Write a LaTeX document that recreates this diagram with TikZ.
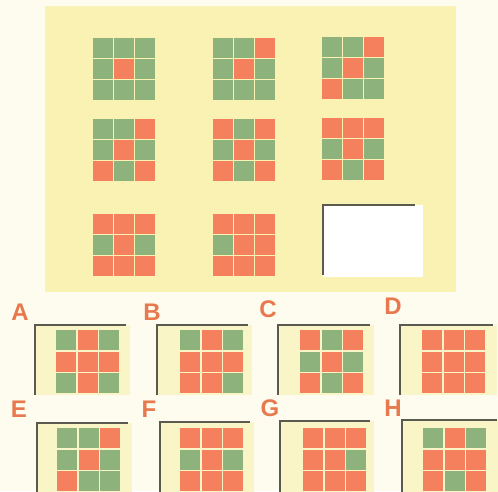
\documentclass[tikz,border=0pt]{standalone}
\usepackage{fontspec}
\setmainfont{Liberation Sans}
\definecolor{gc}{HTML}{8DB27C}
\definecolor{rc}{HTML}{F4805E}
\definecolor{panel}{HTML}{F9F2B2}
\definecolor{boxin}{HTML}{FAF5C6}
\definecolor{lab}{HTML}{E8784E}
\definecolor{bg}{HTML}{FDFCEE}
\definecolor{lc}{HTML}{5A5A50}
\newcommand{\mgrid}[3]{%
  \foreach \c [count=\i from 0] in {#3} {%
    \pgfmathtruncatemacro\rr{int(\i/3)}%
    \pgfmathtruncatemacro\kk{mod(\i,3)}%
    \fill[\c] ({#1+\kk*21},{#2+\rr*21}) rectangle ++(19.5,19.5);
  }}
\newcommand{\agrid}[3]{%
  \foreach \c [count=\i from 0] in {#3} {%
    \pgfmathtruncatemacro\rr{int(\i/3)}%
    \pgfmathtruncatemacro\kk{mod(\i,3)}%
    \fill[\c] ({#1+\kk*21.5},{#2+\rr*21.5}) rectangle ++(20,20);
  }}
\tikzset{
  optlabel/.style={text=lab,font=\fontsize{24}{24}\selectfont\bfseries,inner sep=0pt},
  boxline/.style={draw=lc,line width=1.4pt}
}
\begin{document}
\begin{tikzpicture}[x=1pt,y=-1pt]
\useasboundingbox (0,0) rectangle (498,491);
\clip (0,0) rectangle (498,491);
\fill[bg] (0,0) rectangle (498,491);
% panel
\fill[panel] (45,6) rectangle (456,292);
% matrix grids
\mgrid{93}{38}{gc,gc,gc,gc,rc,gc,gc,gc,gc}
\mgrid{213}{38}{gc,gc,rc,gc,rc,gc,gc,gc,gc}
\mgrid{322}{37}{gc,gc,rc,gc,rc,gc,rc,gc,gc}
\mgrid{93}{119}{gc,gc,rc,gc,rc,gc,rc,gc,rc}
\mgrid{213}{119}{rc,gc,rc,gc,rc,gc,rc,gc,rc}
\mgrid{322}{118}{rc,rc,rc,gc,rc,gc,rc,gc,rc}
\mgrid{93}{214}{rc,rc,rc,gc,rc,gc,rc,rc,rc}
\mgrid{213}{214}{rc,rc,rc,gc,rc,rc,rc,rc,rc}
% empty slot
\fill[white] (323,205) rectangle (423,277);
\draw[boxline] (323,275) -- (323,205) -- (415,205);
% answer boxes
\foreach \lx/\rx/\ty in {35/126/325,157/248/325,278/370/325,400/493/325}{
  \fill[boxin] (\lx,\ty) rectangle (\rx+4,\ty+70);
  \draw[boxline] (\lx,\ty+70) -- (\lx,\ty) -- (\rx,\ty);
}
\foreach \lx/\rx/\ty in {37/128/423,160/250/422,280/370/421,402/497/420}{
  \fill[boxin] (\lx,\ty) rectangle (\rx+4,495);
  \draw[boxline] (\lx,495) -- (\lx,\ty) -- (\rx,\ty);
}
\agrid{56}{330}{gc,rc,gc,rc,rc,rc,gc,rc,gc}
\agrid{180}{330}{gc,rc,gc,rc,rc,rc,rc,rc,gc}
\agrid{300}{330}{rc,gc,rc,gc,rc,gc,rc,gc,rc}
\agrid{422}{330}{rc,rc,rc,rc,rc,rc,rc,rc,rc}
\agrid{57}{428}{gc,gc,rc,gc,rc,gc,rc,gc,gc}
\agrid{180}{428}{rc,rc,rc,gc,rc,gc,rc,rc,rc}
\agrid{303}{428}{rc,rc,rc,rc,rc,gc,rc,rc,rc}
\agrid{423}{428}{gc,rc,gc,rc,rc,rc,rc,gc,rc}
% labels
\node[optlabel] (la) at (20,312) {A};
\node[optlabel] (lb) at (152,312) {B};
\node[optlabel] (lc) at (268,309) {C};
\node[optlabel] (ld) at (393,306) {D};
\node[optlabel] (le) at (19,409) {E};
\node[optlabel] (lf) at (149,409) {F};
\node[optlabel] (lg) at (270,408) {G};
\node[optlabel] (lh) at (393,408) {H};
\end{tikzpicture}
\end{document}
